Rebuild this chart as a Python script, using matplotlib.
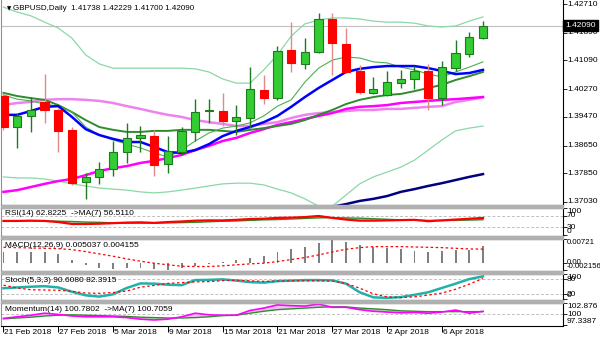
import matplotlib.pyplot as plt
import numpy as np
from matplotlib.patches import Rectangle

plt.rcParams['font.family'] = ['Liberation Sans', 'DejaVu Sans']
plt.rcParams['font.size'] = 6

# GBPUSD daily bars, 21 Feb - 11 Apr 2018
opens = [1.4007, 1.3918, 1.3950, 1.3990, 1.3967, 1.3910, 1.3760, 1.3775, 1.3798, 1.3846,
         1.3887, 1.3892, 1.3812, 1.3846, 1.3904, 1.3964, 1.3964, 1.3935, 1.3944, 1.4024,
         1.4001, 1.4139, 1.4099, 1.4133, 1.4228, 1.4156, 1.4079, 1.4016, 1.4010, 1.4044,
         1.4056, 1.4079, 1.4001, 1.4087, 1.4128, 1.41738]
highs = [1.4016, 1.3958, 1.4004, 1.4070, 1.3973, 1.3918, 1.3786, 1.3818, 1.3878, 1.3930,
         1.3921, 1.3910, 1.3892, 1.3918, 1.3998, 1.3998, 1.4016, 1.3981, 1.4090, 1.4067,
         1.4150, 1.4219, 1.4173, 1.4245, 1.4245, 1.4202, 1.4096, 1.4061, 1.4079, 1.4082,
         1.4093, 1.4099, 1.4107, 1.4168, 1.4191, 1.42229]
lows = [1.3910, 1.3858, 1.3904, 1.3930, 1.3846, 1.3752, 1.3712, 1.3755, 1.3778, 1.3815,
        1.3846, 1.3778, 1.3786, 1.3838, 1.3878, 1.3930, 1.3921, 1.3895, 1.3915, 1.3984,
        1.3996, 1.4076, 1.4084, 1.4130, 1.4067, 1.4073, 1.4013, 1.4013, 1.4007, 1.4030,
        1.4027, 1.3967, 1.3981, 1.4079, 1.4119, 1.41700]
closes = [1.3918, 1.3950, 1.3967, 1.3967, 1.3907, 1.3757, 1.3775, 1.3798, 1.3846, 1.3887,
          1.3895, 1.3809, 1.3849, 1.3907, 1.3961, 1.3967, 1.3935, 1.3947, 1.4027, 1.4001,
          1.4136, 1.4102, 1.4133, 1.4228, 1.4159, 1.4076, 1.4018, 1.4027, 1.4047, 1.4056,
          1.4079, 1.4001, 1.4090, 1.4130, 1.4176, 1.42090]

# overlays on the price chart
bb_upper = [1.4262, 1.4248, 1.4237, 1.4219, 1.4202, 1.4173, 1.4125, 1.4099, 1.4087, 1.4087,
            1.4087, 1.4087, 1.4087, 1.4087, 1.4085, 1.4076, 1.4056, 1.4044, 1.4044, 1.4082,
            1.4125, 1.4179, 1.4214, 1.4225, 1.4231, 1.4231, 1.4228, 1.4222, 1.4219, 1.4219,
            1.4216, 1.4208, 1.4205, 1.4208, 1.4222, 1.4234]
bb_lower = [1.3775, 1.3772, 1.3772, 1.3769, 1.3763, 1.3755, 1.3749, 1.3743, 1.3740, 1.3737,
            1.3732, 1.3729, 1.3732, 1.3737, 1.3743, 1.3749, 1.3755, 1.3757, 1.3757, 1.3752,
            1.3740, 1.3729, 1.3712, 1.3691, 1.3691, 1.3723, 1.3755, 1.3775, 1.3789, 1.3803,
            1.3823, 1.3852, 1.3881, 1.3907, 1.3915, 1.3921]
ma_fast = [1.4010, 1.3998, 1.3993, 1.3984, 1.3978, 1.3961, 1.3918, 1.3895, 1.3881, 1.3869,
           1.3858, 1.3844, 1.3832, 1.3852, 1.3878, 1.3901, 1.3915, 1.3921, 1.3930, 1.3950,
           1.3978, 1.3996, 1.4047, 1.4087, 1.4110, 1.4119, 1.4116, 1.4105, 1.4102, 1.4090,
           1.4082, 1.4070, 1.4062, 1.4076, 1.4090, 1.4105]
ma_blue = [1.3953, 1.3953, 1.3964, 1.3976, 1.3978, 1.3947, 1.3912, 1.3895, 1.3884, 1.3875,
           1.3875, 1.3861, 1.3846, 1.3844, 1.3852, 1.3869, 1.3892, 1.3907, 1.3918, 1.3932,
           1.3950, 1.3976, 1.4004, 1.4030, 1.4053, 1.4076, 1.4085, 1.4090, 1.4093, 1.4093,
           1.4093, 1.4087, 1.4079, 1.4070, 1.4073, 1.4082]
ma_green = [1.4016, 1.4007, 1.4001, 1.3996, 1.3981, 1.3961, 1.3938, 1.3918, 1.3910, 1.3904,
            1.3904, 1.3907, 1.3907, 1.3910, 1.3910, 1.3910, 1.3907, 1.3904, 1.3910, 1.3915,
            1.3921, 1.3927, 1.3938, 1.3953, 1.3967, 1.3984, 1.3996, 1.4004, 1.4010, 1.4013,
            1.4021, 1.4030, 1.4039, 1.4053, 1.4064, 1.4076]
ma_violet = [1.3981, 1.3987, 1.3990, 1.3996, 1.3998, 1.3998, 1.3996, 1.3993, 1.3987, 1.3978,
             1.3970, 1.3961, 1.3953, 1.3947, 1.3938, 1.3932, 1.3927, 1.3921, 1.3921, 1.3927,
             1.3932, 1.3944, 1.3953, 1.3958, 1.3961, 1.3964, 1.3967, 1.3967, 1.3970, 1.3970,
             1.3973, 1.3976, 1.3978, 1.3990, 1.3996, 1.4004]
ma_magenta = [1.3732, 1.3737, 1.3746, 1.3755, 1.3763, 1.3769, 1.3780, 1.3792, 1.3800, 1.3806,
              1.3815, 1.3821, 1.3829, 1.3838, 1.3852, 1.3864, 1.3878, 1.3887, 1.3901, 1.3912,
              1.3924, 1.3932, 1.3941, 1.3950, 1.3958, 1.3970, 1.3976, 1.3978, 1.3981, 1.3987,
              1.3990, 1.3993, 1.3996, 1.3998, 1.4001, 1.4004]
ma_navy = [None] * 22 + [1.3671, 1.3680, 1.3689, 1.3697, 1.3706, 1.3712, 1.3720, 1.3732,
                         1.3740, 1.3749, 1.3757, 1.3766, 1.3775, 1.3783]

# indicator windows
rsi = [52, 52, 53, 52, 48, 41, 41, 42, 44, 46, 47, 45, 48, 50, 53, 54, 54, 56, 59, 60,
       63, 64, 66, 70, 63, 57, 53, 53, 54, 55, 56, 51, 54, 57, 60, 62.8225]
rsi_ma = [53, 53, 52.5, 52, 51, 50, 48, 47, 45, 44, 44, 44, 45, 46, 47, 49, 51, 52, 54, 56,
          57, 59, 61, 63, 64, 63, 62, 60, 58, 56, 55, 54, 54, 54, 55, 56.5110]
macd = [0.0034, 0.0034, 0.0034, 0.0034, 0.0027, 0.0009, -0.0007, -0.0016, -0.0019, -0.0016,
        -0.0016, -0.0019, -0.002156, -0.0016, -0.0011, -0.0002, 0.0004, 0.0009, 0.0014, 0.0021,
        0.0034, 0.0041, 0.0049, 0.0061, 0.00721, 0.0064, 0.0055, 0.0047, 0.0044, 0.0041,
        0.0037, 0.0034, 0.0037, 0.0039, 0.0039, 0.005037]
macd_signal = [0.0047, 0.0046, 0.0045, 0.0044, 0.0043, 0.0040, 0.0034, 0.0027, 0.0020, 0.0012,
               0.0005, -0.0001, -0.0006, -0.0010, -0.0011, -0.0011, -0.0009, -0.0006, -0.0003, -0.0001,
               0.0004, 0.0010, 0.0016, 0.0024, 0.0033, 0.0041, 0.0046, 0.0049, 0.0049, 0.0049,
               0.0048, 0.0047, 0.0046, 0.0044, 0.0042, 0.004155]
stoch_k = [44, 47, 50, 52, 47, 30, 16, 11, 20, 45, 63, 62, 58, 56, 76, 77, 79, 74, 68, 66,
           72, 74, 76, 76, 75, 62, 28, 8, 6, 9, 18, 28, 45, 62, 80, 90.6080]
stoch_d = [56, 45, 38, 37, 36, 32, 25, 24, 27, 33, 48, 55, 63, 66, 69, 70, 74, 76, 73, 71,
           72, 73, 73, 73, 72, 63, 44, 22, 10, 7, 10, 17, 25, 40, 60, 82.3915]
momentum = [99.0, 99.4, 99.8, 100.3, 100.0, 99.6, 99.4, 99.4, 99.4, 99.2, 98.8, 98.6, 98.8,
            99.4, 100.3, 99.9, 99.8, 99.8, 101.0, 101.6, 102.4, 102.2, 102.1, 102.6, 101.8,
            101.8, 101.2, 100.8, 100.6, 100.4, 100.5, 100.3, 100.6, 101.1, 100.3, 100.7802]
momentum_ma = [98.9, 99.1, 99.3, 99.6, 99.8, 99.9, 99.8, 99.7, 99.6, 99.5, 99.3, 99.2, 99.1,
               99.1, 99.2, 99.4, 99.7, 99.8, 100.3, 100.8, 101.2, 101.4, 101.6, 101.8, 101.9,
               101.9, 101.6, 101.4, 101.2, 100.9, 100.8, 100.7, 100.7, 100.7, 100.7, 100.7059]

price_ticks = [1.42710, 1.41890, 1.41090, 1.40270, 1.39470, 1.38650, 1.37850, 1.37030]
date_idx = [0, 4, 8, 12, 16, 20, 24, 28, 32]
date_labels = ['21 Feb 2018', '27 Feb 2018', '5 Mar 2018', '9 Mar 2018', '15 Mar 2018',
               '21 Mar 2018', '27 Mar 2018', '2 Apr 2018', '6 Apr 2018']

W, H = 600, 343
fig = plt.figure(figsize=(W / 100, H / 100), dpi=100)
x = np.arange(len(closes))


def panel(top, bottom):
    ax = fig.add_axes([1 / W, 1 - bottom / H, 562 / W, (bottom - top) / H])
    ax.set_xlim(-0.18, 40.84)
    ax.set_xticks([])
    ax.yaxis.tick_right()
    ax.tick_params(axis='y', length=3, width=0.6, labelright=False, color='black')
    for s in ax.spines.values():
        s.set_color('black')
        s.set_linewidth(0.8)
    ax.spines['left'].set_color('#909090')
    return ax


def right_labels(ax, items, size=6):
    ax.set_yticks([v for _, v, _ in items])
    for txt, v, va in items:
        ax.text(1.007, v, txt, transform=ax.get_yaxis_transform(), va=va, ha='left',
                fontsize=size, clip_on=False)


def level_lines(ax, levels):
    for v in levels:
        ax.axhline(v, color='#c0c0c0', lw=0.7, ls=(0, (3, 2)), zorder=0)


# ---- price window
ax = panel(0, 204.5)
ax.set_ylim(1.36958, 1.42825)
ax.spines['top'].set_visible(False)
ax.axhline(closes[-1], color='#c0c0c0', lw=0.8, zorder=0)

ax.plot(x, bb_upper, color='#8ad8a8', lw=0.9)
ax.plot(x, bb_lower, color='#8ad8a8', lw=0.9)
ax.plot(x, np.array(ma_navy, dtype=float), color='#000080', lw=1.8)
ax.plot(x, ma_violet, color='#ee82ee', lw=1.8)
ax.plot(x, ma_magenta, color='#ff00ff', lw=1.8)
ax.plot(x, ma_green, color='#2e8b2e', lw=1.4)
ax.plot(x, ma_fast, color='#4caf50', lw=0.8)
ax.plot(x, ma_blue, color='#0000ff', lw=1.8)

o, h, l, c = map(np.array, (opens, highs, lows, closes))
up = c >= o
wick_col = np.where(up, '#1e7a1e', '#e08a8a')
ax.vlines(x, l, h, colors=wick_col, lw=1.0, zorder=3)
ax.bar(x[up], (c - o)[up], bottom=o[up], width=0.6, color='#33cc33',
       edgecolor='#1e7a1e', lw=0.8, zorder=4)
ax.bar(x[~up], (o - c)[~up], bottom=c[~up], width=0.6, color='#ff0000',
       edgecolor='#ff0000', lw=0.8, zorder=4)

right_labels(ax, [('%.5f' % p, p, 'center') for p in price_ticks])
ax.text(1.004, closes[-1], '%.5f' % closes[-1], transform=ax.get_yaxis_transform(),
        va='center', ha='left', fontsize=6, color='white', clip_on=False,
        bbox=dict(facecolor='black', edgecolor='black', pad=1.6))

fig.text(7 / W, 1 - 9 / H, '\u25bc', fontsize=4, va='center', family='DejaVu Sans')
fig.text(13 / W, 1 - 9 / H, 'GBPUSD,Daily  %.5f %.5f %.5f %.5f' % (opens[-1], highs[-1], lows[-1], closes[-1]),
         fontsize=5.8, va='center')

# ---- RSI
ax1 = panel(207.5, 235.5)
ax1.set_ylim(-0.7, 100.7)
level_lines(ax1, [70, 30])
r, rm = np.array(rsi), np.array(rsi_ma)
ax1.fill_between(x, r, rm, where=r >= rm, color='#f5b5b5', lw=0, interpolate=True)
ax1.fill_between(x, r, rm, where=r < rm, color='#b5e0b5', lw=0, interpolate=True)
ax1.plot(x, rsi_ma, color='#2e8b2e', lw=1.0)
ax1.plot(x, rsi, color='#ff0000', lw=1.6)
right_labels(ax1, [('100', 100, 'top'), ('70', 70, 'center'), ('30', 30, 'center'), ('0', 0, 'bottom')])
ax1.text(0.008, 0.77, 'RSI(14) %.4f  ->MA(7) %.4f' % (rsi[-1], rsi_ma[-1]),
         transform=ax1.transAxes, va='center', fontsize=6)

# ---- MACD
ax2 = panel(238.5, 270.5)
ax2.set_ylim(-0.00231, 0.00736)
ax2.bar(x, macd, width=0.14, color='#808080')
ax2.plot(x, macd_signal, color='#ff0000', lw=0.9, ls=(0, (2, 2)))
right_labels(ax2, [('0.00721', max(macd), 'top'), ('0.00', 0, 'center'),
                   ('-0.002156', min(macd), 'bottom')], size=5.6)
ax2.text(0.008, 0.77, 'MACD(12,26,9) %.6f %.6f' % (macd[-1], macd_signal[-1]),
         transform=ax2.transAxes, va='center', fontsize=6)

# ---- Stochastic
ax3 = panel(273.5, 300)
ax3.set_ylim(-2.4, 102)
level_lines(ax3, [80, 20])
ax3.plot(x, stoch_k, color='#20b2aa', lw=1.8)
ax3.plot(x, stoch_d, color='#ff0000', lw=0.9, ls=(0, (2, 2)))
right_labels(ax3, [('100', 100, 'top'), ('80', 80, 'center'), ('20', 20, 'center'), ('0', 0, 'bottom')])
ax3.text(0.008, 0.72, 'Stoch(5,3,3) %.4f %.4f' % (stoch_k[-1], stoch_d[-1]),
         transform=ax3.transAxes, va='center', fontsize=6)

# ---- Momentum
ax4 = panel(302.5, 325.5)
ax4.set_ylim(97.21, 103.0)
level_lines(ax4, [100])
m, mm = np.array(momentum), np.array(momentum_ma)
ax4.fill_between(x, m, mm, where=m >= mm, color='#f3c0f3', lw=0, interpolate=True)
ax4.fill_between(x, m, mm, where=m < mm, color='#b5e0b5', lw=0, interpolate=True)
ax4.plot(x, momentum_ma, color='#2e8b2e', lw=1.0)
ax4.plot(x, momentum, color='#ff00ff', lw=1.2)
right_labels(ax4, [('102.876', 102.876, 'top'), ('100', 100, 'center'), ('97.3387', 97.3387, 'bottom')])
ax4.text(0.008, 0.68, 'Momentum(14) %.4f  ->MA(7) %.4f' % (momentum[-1], momentum_ma[-1]),
         transform=ax4.transAxes, va='center', fontsize=6)

ax4.set_xticks(date_idx)
ax4.tick_params(axis='x', length=4, width=0.7, labelbottom=False, color='black')
for i, lab in zip(date_idx, date_labels):
    ax4.annotate(lab, xy=(i, 0), xycoords=('data', 'axes fraction'), xytext=(1, -4),
                 textcoords='offset pixels', va='top', ha='left', fontsize=6)

# grey separators between the windows
for y0, y1 in [(204.5, 207.5), (235.5, 238.5), (270.5, 273.5), (300, 302.5)]:
    fig.patches.append(Rectangle((1 / W, 1 - y1 / H), 562 / W, (y1 - y0) / H,
                                 transform=fig.transFigure, color='#b0b0b0', zorder=0))

fig.savefig('out.png', dpi=100)
